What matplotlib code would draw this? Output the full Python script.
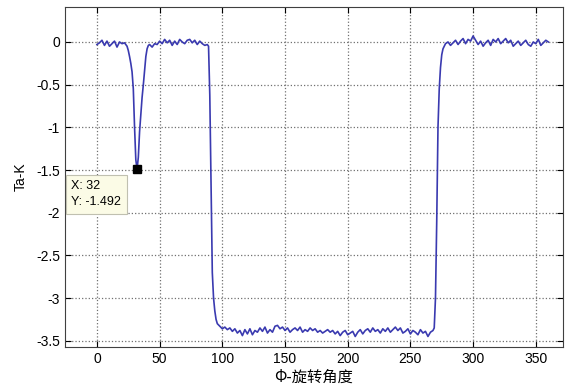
import matplotlib.pyplot as plt

# rotation angle (deg) and Ta (K), piece by piece
angle_flat1 = [0, 2, 4, 6, 8, 10, 12, 14, 16, 18, 20, 22, 24]
ta_flat1 = [-0.03, -0.01, 0.02, -0.04, 0.01, -0.05, -0.02, 0.01, -0.06, 0.00, -0.02, -0.01, -0.05]

angle_dip = [25, 26, 27, 28, 29, 30, 31, 32, 33, 34, 35, 36, 37, 38, 39, 40, 41]
ta_dip = [-0.10, -0.17, -0.25, -0.35, -0.55, -1.00, -1.38, -1.492,
          -1.35, -1.05, -0.85, -0.65, -0.50, -0.33, -0.17, -0.08, -0.04]

angle_flat2 = [42, 44, 46, 48, 50, 52, 54, 56, 58, 60, 62, 64,
               66, 68, 70, 72, 74, 76, 78, 80, 82, 84, 86, 88, 89]
ta_flat2 = [-0.03, -0.06, -0.02, -0.03, 0.01, -0.02, 0.03, -0.01, 0.02, -0.04, 0.01, -0.03,
            0.03, 0.00, -0.02, 0.02, 0.03, -0.01, 0.02, -0.03, 0.01, -0.02, -0.04, -0.03, -0.05]

angle_drop = [90, 91, 92, 93, 94, 95, 96, 98, 100]
ta_drop = [-0.62, -1.70, -2.70, -3.00, -3.15, -3.25, -3.30, -3.33, -3.36]

angle_low = [102, 104, 106, 108, 110, 112, 114, 116, 118, 120, 122, 124,
             126, 128, 130, 132, 134, 136, 138, 140, 142, 144, 146, 148,
             150, 152, 154, 156, 158, 160, 162, 164, 166, 168, 170, 172,
             174, 176, 178, 180, 182, 184, 186, 188, 190, 192, 194, 196,
             198, 200, 202, 204, 206, 208, 210, 212, 214, 216, 218, 220,
             222, 224, 226, 228, 230, 232, 234, 236, 238, 240, 242, 244,
             246, 248, 250, 252, 254, 256, 258, 260, 262, 264, 266, 268]
ta_low = [-3.34, -3.37, -3.35, -3.39, -3.36, -3.41, -3.38, -3.44, -3.37, -3.42, -3.36, -3.43,
          -3.38, -3.40, -3.35, -3.39, -3.34, -3.41, -3.37, -3.40, -3.33, -3.32, -3.36, -3.34,
          -3.38, -3.35, -3.40, -3.37, -3.35, -3.38, -3.34, -3.40, -3.37, -3.39, -3.35, -3.38,
          -3.36, -3.40, -3.38, -3.41, -3.39, -3.37, -3.40, -3.38, -3.42, -3.39, -3.44, -3.40,
          -3.38, -3.43, -3.41, -3.39, -3.45, -3.40, -3.37, -3.42, -3.38, -3.36, -3.40, -3.35,
          -3.39, -3.37, -3.41, -3.36, -3.39, -3.35, -3.40, -3.37, -3.34, -3.38, -3.35, -3.41,
          -3.39, -3.36, -3.42, -3.38, -3.40, -3.43, -3.37, -3.41, -3.39, -3.45, -3.40, -3.38]

angle_rise = [269, 270, 271, 272, 273, 274, 275, 276, 278]
ta_rise = [-3.35, -3.00, -2.10, -1.00, -0.55, -0.30, -0.15, -0.08, -0.02]

angle_flat3 = [280, 282, 284, 286, 288, 290, 292, 294, 296, 298, 300, 302,
               304, 306, 308, 310, 312, 314, 316, 318, 320, 322, 324, 326,
               328, 330, 332, 334, 336, 338, 340, 342, 344, 346, 348, 350,
               352, 354, 356, 358, 360]
ta_flat3 = [0.00, -0.04, -0.01, 0.02, -0.03, 0.01, 0.04, -0.02, 0.03, 0.01, 0.07, 0.02,
            -0.03, 0.01, -0.05, -0.01, 0.02, -0.04, 0.03, 0.00, 0.04, -0.02, 0.01, 0.04,
            -0.01, 0.02, -0.05, -0.02, 0.01, -0.04, -0.01, 0.02, -0.03, -0.05, 0.00, -0.02,
            0.03, -0.04, -0.01, 0.02, 0.00]

angle = angle_flat1 + angle_dip + angle_flat2 + angle_drop + angle_low + angle_rise + angle_flat3
ta = ta_flat1 + ta_dip + ta_flat2 + ta_drop + ta_low + ta_rise + ta_flat3

tip_x, tip_y = 32, -1.492

plt.rcParams['font.family'] = ['Liberation Sans', 'DejaVu Sans']

fig = plt.figure(figsize=(5.65, 3.87), dpi=100)
ax = fig.add_axes([0.115, 0.103, 0.881, 0.879])

ax.plot(angle, ta, color='#3a3ab0', linewidth=1.2)
ax.plot(tip_x, tip_y, marker='s', color='black', markersize=6, zorder=5)
ax.text(-20.5, -1.62, f'X: {tip_x}\nY: {tip_y}', fontsize=9, va='top', ha='left',
        linespacing=1.45,
        bbox=dict(boxstyle='square,pad=0.45', facecolor='#fbfbe6', edgecolor='#c0c0b0',
                  linewidth=0.8), zorder=6)

ax.set_xlim(-25.5, 371.5)
ax.set_ylim(-3.575, 0.41)
ax.set_xticks(range(0, 351, 50))
ax.set_yticks([0, -0.5, -1, -1.5, -2, -2.5, -3, -3.5])
ax.set_yticklabels(['0', '-0.5', '-1', '-1.5', '-2', '-2.5', '-3', '-3.5'])
ax.tick_params(direction='in', labelsize=10, length=4, top=True, right=True)
ax.grid(True, linestyle=':', color='#707070', linewidth=0.9)
for s in ax.spines.values():
    s.set_color('#404040')

ax.set_ylabel('Ta-K', fontsize=10, labelpad=6)
ax.set_xlabel('Φ-旋转角度', fontsize=11, family=['Noto Sans CJK SC', 'DejaVu Sans'],
              labelpad=2)

fig.savefig('out.png', dpi=100)
